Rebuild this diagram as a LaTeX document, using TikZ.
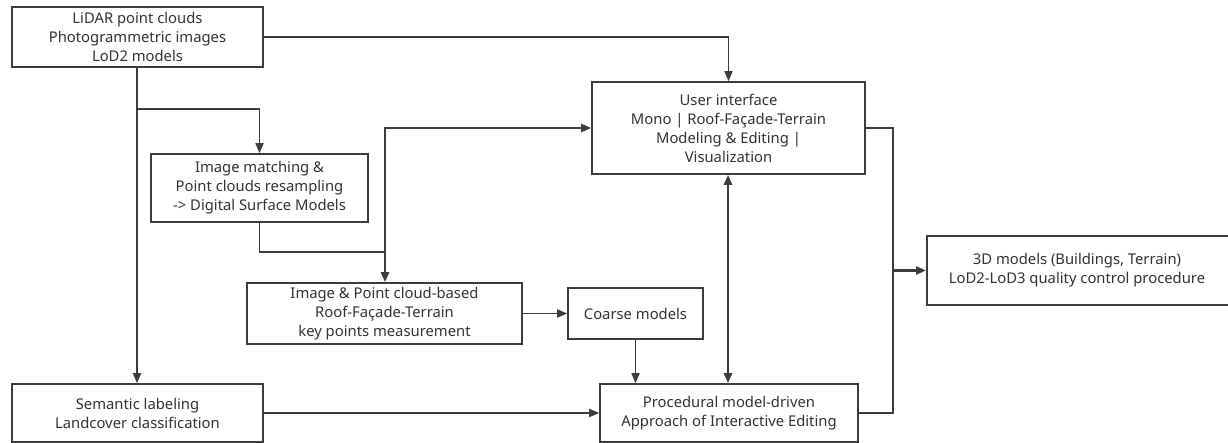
\documentclass[tikz,border=0pt]{standalone}
\usepackage{fontspec}
\setmainfont{Noto Sans}
\usetikzlibrary{arrows.meta}
\definecolor{ln}{HTML}{3C3C3C}
\definecolor{tx}{HTML}{333333}
\begin{document}
\begin{tikzpicture}[x=1pt,y=-1pt,
  box/.style={draw=ln,line width=1.6pt,fill=white,align=center,inner sep=0pt,text=tx,
    font=\fontsize{14.8}{19}\selectfont},
  conn/.style={draw=ln,line width=1.6pt},
  thk/.style={draw=ln,line width=2.4pt},
  arr/.style={-{Triangle[length=10pt,width=8pt]}},
  darr/.style={{Triangle[length=10pt,width=8pt]}-{Triangle[length=10pt,width=8pt]}}]
\useasboundingbox (0,0) rectangle (1228,443);
\node[box,minimum width=251pt,minimum height=60pt] (src) at (137.5,37) {LiDAR point clouds\\Photogrammetric images\\LoD2 models};
\node[box,minimum width=217pt,minimum height=68pt] (im) at (259.5,188) {Image matching \&\\Point clouds resampling\\ -> Digital Surface Models};
\node[box,minimum width=273pt,minimum height=92pt] (ui) at (728.5,128) {User interface\\Mono | Roof-Façade-Terrain\\Modeling \& Editing |\\Visualization};
\node[box,minimum width=275pt,minimum height=61pt] (kp) at (384.5,313.5) {Image \& Point cloud-based\\Roof-Façade-Terrain\\key points measurement};
\node[box,minimum width=135pt,minimum height=51pt] (cm) at (635.5,313.5) {Coarse models};
\node[box,minimum width=258pt,minimum height=58pt] (pm) at (729,413) {Procedural model-driven\\Approach of Interactive Editing};
\node[box,minimum width=251pt,minimum height=58pt] (sl) at (137.5,413) {Semantic labeling\\Landcover classification};
\node[box,minimum width=306pt,minimum height=69pt,anchor=west] (out) at (926,270.5) {};
\node[text=tx,font=\fontsize{14.8}{19}\selectfont,align=center] (outt) at (1077,270.5) {3D models (Buildings, Terrain)\\LoD2-LoD3 quality control procedure};
\coordinate (br) at (137,109);
\coordinate (jn) at (385,252);
\coordinate (rt) at (893,128);
% connectors
\draw[conn,arr] (src.east) -| (ui.north);
\draw[conn,arr] (src.south -| br) -- (sl.north -| br);
\draw[conn,arr] (br) -| (im.north);
\draw[conn] (im.south) |- (jn);
\draw[thk,arr] (jn) -- (kp.north -| jn);
\draw[thk,arr] (jn) |- (ui.west);
\draw[conn,arr] (kp.east) -- (cm.west);
\draw[conn,arr] (cm.south) -- (cm.south |- pm.north);
\draw[thk,darr] (ui.south -| 728,0) -- (pm.north -| 728,0);
\draw[conn,arr] (sl.east) -- (pm.west);
\draw[conn] (pm.east) -| (rt) -- (ui.east);
\draw[thk,arr] (rt |- out.west) -- (out.west);
\end{tikzpicture}
\end{document}
